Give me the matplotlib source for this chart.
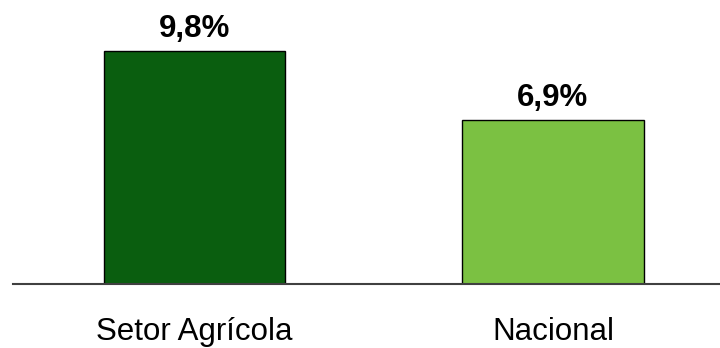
import matplotlib
matplotlib.use("Agg")
import matplotlib.pyplot as plt

categories = ["Setor Agrícola", "Nacional"]
values = [9.8, 6.9]
value_labels = ["9,8%", "6,9%"]
colors = ["#0a5e0f", "#7bc142"]

plt.rcParams["font.family"] = ["Liberation Sans", "DejaVu Sans"]

fig = plt.figure(figsize=(7.2, 3.48), dpi=100)
ax = fig.add_axes([13 / 720, 64 / 348, 707 / 720, 284 / 348])

x = list(range(len(categories)))
ax.bar(x, values, width=0.505, color=colors, edgecolor="black", linewidth=1.0, zorder=2)

for xi, v, lab in zip(x, values, value_labels):
    ax.annotate(lab, (xi, v), xytext=(0, 14), textcoords="offset pixels",
                ha="center", va="baseline", fontsize=22.5, fontweight="bold")

ax.set_xlim(-0.505, 1.4655)
ax.set_ylim(0, 11.92)

for side in ["top", "right", "left"]:
    ax.spines[side].set_visible(False)
ax.spines["bottom"].set_color("#404040")
ax.spines["bottom"].set_linewidth(1.5)
ax.spines["bottom"].set_zorder(3)

ax.set_yticks([])
ax.set_xticks(x)
ax.set_xticklabels(categories, fontsize=22.5)
ax.tick_params(axis="x", length=0, pad=23.5)

fig.savefig("out.png", dpi=100)
